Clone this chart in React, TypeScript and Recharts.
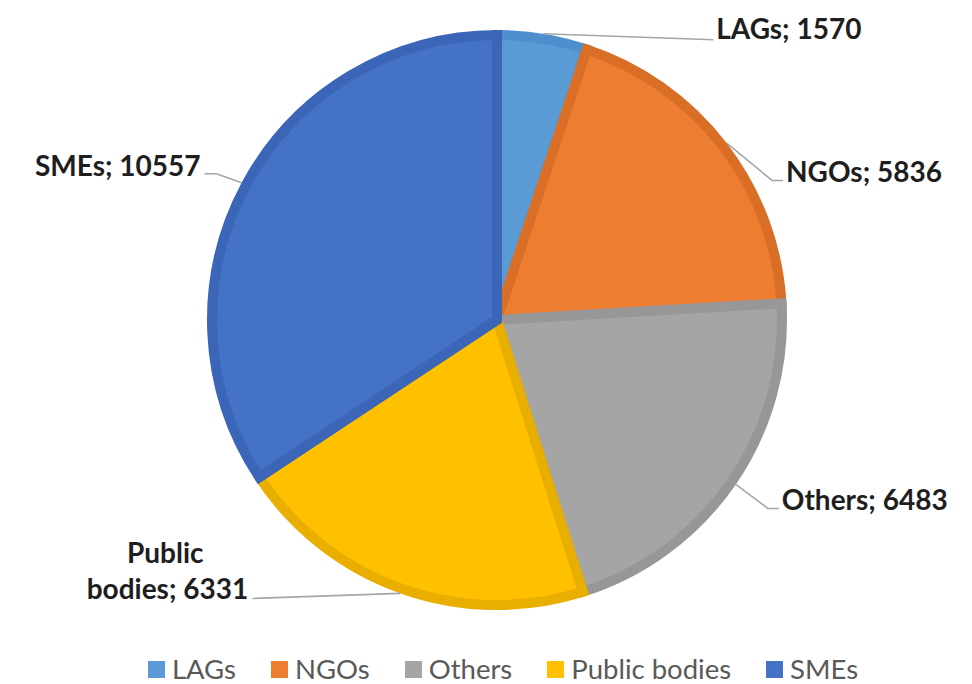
import React from 'react';
import { PieChart, Pie, Cell, Legend } from 'recharts';

const categories = ['LAGs', 'NGOs', 'Others', 'Public bodies', 'SMEs'];
const values = [1570, 5836, 6483, 6331, 10557];
const fills = ['#5b9bd5', '#ed7d31', '#a5a5a5', '#ffc000', '#4472c4'];
const strokes = ['#4d8fcf', '#d96f27', '#979797', '#e8ae00', '#3b66b8'];

// label layout: elbow offset from slice edge, then horizontal run
const labelLayout = [
  { ex: 170, ey: 6, run: 0, anchor: 'start', dy: -1 },
  { ex: 45, ey: 37, run: 11, anchor: 'start', dy: 2 },
  { ex: 32, ey: 24, run: 11, anchor: 'start', dy: 2 },
  { ex: -148, ey: 5, run: 0, anchor: 'end', dy: 1 },
  { ex: -25, ey: -9, run: -12, anchor: 'end', dy: 2 },
];

const data = categories.map((name, i) => ({ name, value: values[i] }));

const RAD = Math.PI / 180;

const renderLabel = (props: any) => {
  const { cx, cy, midAngle, index, name, value } = props;
  const r = 290;
  const sx = cx + r * Math.cos(-midAngle * RAD);
  const sy = cy + r * Math.sin(-midAngle * RAD);
  const L = labelLayout[index];
  const mx = sx + L.ex;
  const my = sy + L.ey;
  const exx = mx + L.run;
  const tx = exx + (L.anchor === 'start' ? 3 : -4);
  const ty = my + L.dy;
  const textStyle = {
    fontFamily: 'Lato, sans-serif',
    fontWeight: 700,
    fontSize: 28,
    fill: '#1e1e1e',
  } as any;
  const path = `M${sx},${sy}L${mx},${my}L${exx},${my}`;
  if (name === 'Public bodies') {
    const second = `bodies; ${value}`;
    const centerX = tx - 83;
    return (
      <g>
        <path d={path} stroke="#a6a6a6" strokeWidth={1.6} fill="none" />
        <text x={centerX} y={ty - 36} textAnchor="middle" style={textStyle}>Public</text>
        <text x={tx} y={ty} textAnchor="end" style={textStyle}>{second}</text>
      </g>
    );
  }
  return (
    <g>
      <path d={path} stroke="#a6a6a6" strokeWidth={1.6} fill="none" />
      <text x={tx} y={ty} textAnchor={L.anchor} style={textStyle}>{`${name}; ${value}`}</text>
    </g>
  );
};

const renderLegend = (props: any) => {
  const { payload } = props;
  return (
    <div style={{ display: 'flex', justifyContent: 'center', alignItems: 'center', height: 34, paddingLeft: 34 }}>
      {payload.map((entry: any, i: number) => (
        <div key={i} style={{ display: 'flex', alignItems: 'center', marginRight: i < payload.length - 1 ? 35 : 0 }}>
          <div style={{ width: 17, height: 17, background: entry.color, marginRight: 7 }} />
          <span style={{ fontFamily: 'Lato, sans-serif', fontSize: 27.5, color: '#595959', lineHeight: '34px' }}>{entry.value}</span>
        </div>
      ))}
    </div>
  );
};

export default function App() {
  return (
    <PieChart width={956} height={678} margin={{ top: 0, right: 0, bottom: 0, left: 0 }}>
      <Pie
        data={data}
        dataKey="value"
        nameKey="name"
        cx={489}
        cy={312}
        outerRadius={285}
        startAngle={90}
        endAngle={-270}
        label={renderLabel}
        labelLine={false}
        isAnimationActive={false}
      >
        {data.map((d, i) => (
          <Cell key={d.name} fill={fills[i]} stroke={strokes[i]} strokeWidth={10} strokeLinejoin="miter" />
        ))}
      </Pie>
      <Legend
        content={renderLegend}
        wrapperStyle={{ top: 644, left: 0, bottom: 'auto', width: 956, height: 34 }}
      />
    </PieChart>
  );
}
